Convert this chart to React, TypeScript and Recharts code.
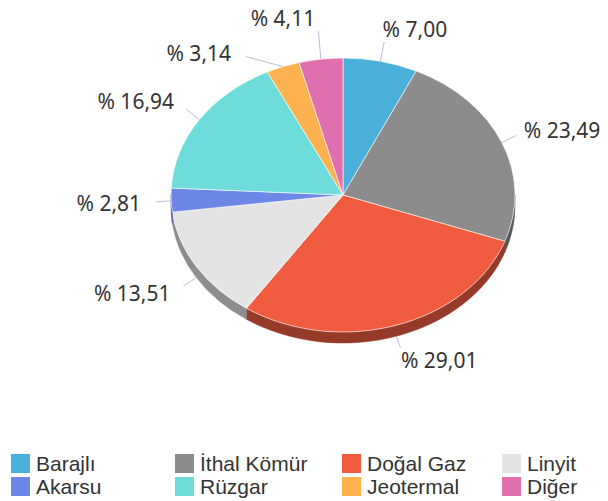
import React from 'react';
import { PieChart, Pie, Cell, Legend } from 'recharts';

// share of electricity production by source (%)
const categories = ['Barajlı', 'İthal Kömür', 'Doğal Gaz', 'Linyit', 'Akarsu', 'Rüzgar', 'Jeotermal', 'Diğer'];
const shares = [7.0, 23.49, 29.01, 13.51, 2.81, 16.94, 3.14, 4.11];
const sliceColors = ['#4aafd9', '#8c8c8c', '#f15c40', '#e4e4e4', '#6d87e6', '#6ddcdb', '#fdb24f', '#e06fb0'];

const CHART_W = 600;
const CHART_H = 493;
const CX = 335;
const CY = 187;
const RX = 172;
const RY = 137;
const DEPTH = 11;
const LABEL_A = RX + 28;
const LABEL_B = RY + 33;
const LABEL_GAP = 35;
const LABEL_TOP = 10 - CY; // highest label centre, relative to the pie centre
const LABEL_FONT = '"Noto Sans", sans-serif';
const LEGEND_FONT = '"Liberation Sans", Arial, sans-serif';
const RAD = Math.PI / 180;

const data = categories.map((name, i) => ({ name, value: shares[i] }));

const shade = (hex: string, k: number) => {
  const n = parseInt(hex.slice(1), 16);
  const r = Math.round(((n >> 16) & 255) * k);
  const g = Math.round(((n >> 8) & 255) * k);
  const b = Math.round((n & 255) * k);
  return `rgb(${r},${g},${b})`;
};

// push overlapping labels apart (per side), like highcharts does
const labelShift = (() => {
  const total = shares.reduce((a, b) => a + b, 0);
  let acc = 0;
  const items = shares.map((v, i) => {
    const mid = 90 - (360 * (acc + v / 2)) / total;
    acc += v;
    return { i, right: Math.cos(mid * RAD) >= 0, y: -LABEL_B * Math.sin(mid * RAD) };
  });
  const shift = shares.map(() => 0);
  [true, false].forEach((side) => {
    const group = items.filter((it) => it.right === side).sort((a, b) => a.y - b.y);
    const ys = group.map((g) => g.y);
    for (let pass = 0; pass < 20; pass++) {
      for (let k = 1; k < ys.length; k++) {
        const d = ys[k] - ys[k - 1];
        if (d < LABEL_GAP) {
          const p = (LABEL_GAP - d) / 2;
          ys[k - 1] -= p;
          ys[k] += p;
        }
      }
      if (ys.length && ys[0] < LABEL_TOP) ys[0] = LABEL_TOP;
    }
    group.forEach((g, k) => (shift[g.i] = ys[k] - g.y));
  });
  return shift;
})();

// elliptical sector with a visible side on the lower half
const renderSlice = (props: any) => {
  const { cx, cy, startAngle, endAngle, outerRadius, fill } = props;
  const rx = outerRadius;
  const ry = (outerRadius * RY) / RX;
  const pt = (a: number, dy = 0) => `${cx + rx * Math.cos(a * RAD)},${cy - ry * Math.sin(a * RAD) + dy}`;
  const large = Math.abs(startAngle - endAngle) > 180 ? 1 : 0;
  const top = `M${cx},${cy}L${pt(startAngle)}A${rx},${ry} 0 ${large} 1 ${pt(endAngle)}Z`;
  const a1 = Math.min(startAngle, 0);
  const a2 = Math.max(endAngle, -180);
  const side =
    a1 > a2
      ? `M${pt(a1)}A${rx},${ry} 0 0 1 ${pt(a2)}L${pt(a2, DEPTH)}A${rx},${ry} 0 0 0 ${pt(a1, DEPTH)}Z`
      : null;
  return (
    <g>
      {side && <path d={side} fill={shade(fill, 0.62)} stroke={shade(fill, 0.62)} strokeWidth={0.5} />}
      <path d={top} fill={fill} stroke="#ffffff" strokeWidth={0.6} strokeLinejoin="round" />
    </g>
  );
};

const renderLabel = (props: any) => {
  const { cx, cy, midAngle, index, value } = props;
  const cos = Math.cos(midAngle * RAD);
  const sin = Math.sin(midAngle * RAD);
  const right = cos >= 0;
  const lower = sin < 0 ? DEPTH * Math.abs(cos) * Math.min(1, -sin * 3) : 0;
  const ty = cy - LABEL_B * sin + labelShift[index] + lower;
  let dx = LABEL_A * Math.abs(cos);
  const ratio = (ty - lower - cy) / LABEL_B;
  if (Math.abs(ratio) < 1) dx = Math.max(dx, LABEL_A * Math.sqrt(1 - ratio * ratio));
  const tx = cx + (right ? dx : -dx);
  const ex = cx + RX * cos;
  const ey = cy - RY * sin + (sin < 0 ? DEPTH * Math.min(1, -sin * 2) : 0);
  const len = Math.hypot(ex - tx, ey - ty);
  const qx = tx + ((ex - tx) / len) * 13;
  const qy = ty + ((ey - ty) / len) * 13;
  return (
    <g>
      <path d={`M${ex},${ey}L${qx},${qy}`} stroke="#b4c0d8" strokeWidth={1} fill="none" />
      <text
        x={tx + (right ? -4 : -2)}
        y={ty}
        textAnchor={right ? 'start' : 'end'}
        dominantBaseline="central"
        fill="#333333"
        fontSize={21}
        fontFamily={LABEL_FONT}
      >
        {`% ${Number(value).toFixed(2).replace('.', ',')}`}
      </text>
    </g>
  );
};

const legendCols = [3, 167, 334, 494];
const legendRows = [8, 31];

const renderLegend = () => (
  <div style={{ position: 'relative', width: CHART_W, height: 55, fontFamily: LEGEND_FONT }}>
    {categories.map((name, i) => (
      <div
        key={name}
        style={{
          position: 'absolute',
          left: legendCols[i % 4],
          top: legendRows[Math.floor(i / 4)],
          display: 'flex',
          alignItems: 'center',
          height: 19,
        }}
      >
        <span style={{ width: 19, height: 19, background: sliceColors[i], marginRight: 6, display: 'inline-block' }} />
        <span style={{ fontSize: 21, color: '#333333', lineHeight: '19px', whiteSpace: 'nowrap' }}>{name}</span>
      </div>
    ))}
  </div>
);

export default function App() {
  return (
    <div style={{ width: CHART_W, height: CHART_H }}>
      <PieChart
        width={CHART_W}
        height={CHART_H}
        margin={{ top: 0, right: 0, bottom: 0, left: 0 }}
        style={{ overflow: 'visible' }}
      >
        <Pie
          data={data}
          dataKey="value"
          nameKey="name"
          cx={CX}
          cy={CY}
          outerRadius={RX}
          startAngle={90}
          endAngle={-270}
          shape={renderSlice}
          activeShape={renderSlice}
          label={renderLabel}
          labelLine={false}
          isAnimationActive={false}
        >
          {data.map((d, i) => (
            <Cell key={d.name} fill={sliceColors[i]} />
          ))}
        </Pie>
        <Legend
          verticalAlign="bottom"
          content={renderLegend}
          wrapperStyle={{ left: 0, top: 438, width: CHART_W, height: 55 }}
        />
      </PieChart>
    </div>
  );
}
